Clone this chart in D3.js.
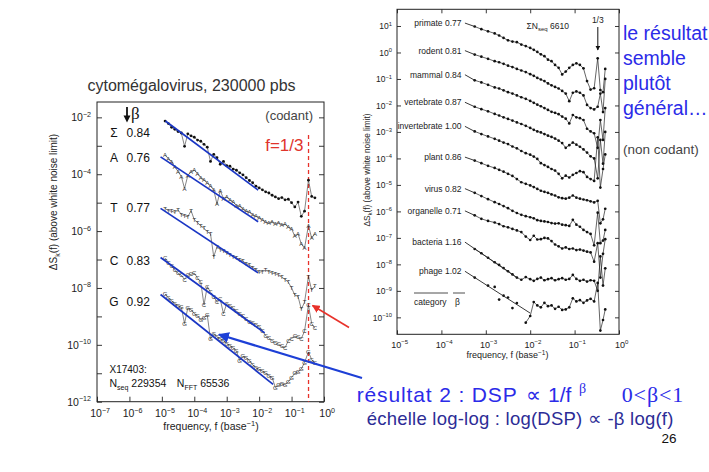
<!DOCTYPE html>
<html>
<head>
<meta charset="utf-8">
<script src="https://cdnjs.cloudflare.com/ajax/libs/d3/7.8.5/d3.min.js"></script>
<style>
body { margin: 0; background: #fff; }
svg { display: block; font-family: "Liberation Sans", Arial, sans-serif; }
</style>
</head>
<body>
<svg id="slide" width="709" height="472"></svg>
<script>
//////////////////////////////////////
// Data (log10 values)

// left panel : cytomegalovirus, one spectrum per nucleotide
const freqL = [-4.9,-4.8,-4.7,-4.6,-4.5,-4.4,-4.3,-4.2,-4.1,-4.0,-3.9,-3.8,-3.7,-3.6,-3.5,-3.4,-3.3,-3.2,-3.1,-3.0,
	-2.9,-2.8,-2.7,-2.6,-2.5,-2.4,-2.3,-2.2,-2.1,-2.0,-1.9,-1.8,-1.7,-1.6,-1.5,-1.4,-1.3,-1.2,-1.1,-1.0,
	-0.9,-0.8,-0.7,-0.6,-0.48,-0.38,-0.28];
const sigmaL = [-2.13,-2.22,-2.35,-2.42,-2.50,-2.55,-3.02,-2.58,-2.65,-2.70,-2.80,-2.84,-2.95,-3.05,-3.55,-3.30,-3.42,-3.65,-3.55,-3.70,
	-3.72,-3.82,-3.86,-3.95,-4.02,-4.12,-4.22,-4.30,-4.42,-4.48,-4.55,-4.62,-4.66,-4.74,-4.80,-4.86,-4.82,-4.90,-4.88,-5.00,
	-5.15,-4.98,-5.48,-5.30,-4.21,-4.78,-4.83];
const adenL = [-3.33,-3.45,-3.55,-3.75,-3.90,-4.08,-4.50,-4.05,-3.90,-3.86,-3.98,-4.12,-4.20,-4.30,-4.42,-4.55,-5.05,-4.58,-4.85,-4.80,
	-4.90,-4.98,-5.10,-5.12,-5.22,-5.30,-5.33,-5.42,-5.48,-5.52,-5.60,-5.68,-5.72,-5.66,-5.74,-5.70,-5.78,-5.76,-5.86,-5.92,
	-6.18,-6.10,-6.45,-6.60,-5.80,-6.25,-6.08];
const thymL = [-5.20,-5.28,-5.30,-5.34,-5.25,-5.42,-5.46,-5.50,-5.28,-5.60,-5.70,-5.82,-5.90,-6.02,-6.10,-6.90,-6.55,-6.65,-6.70,-6.78,
	-6.82,-6.90,-6.95,-7.02,-7.05,-7.15,-7.20,-7.28,-7.35,-7.45,-7.42,-7.38,-7.42,-7.48,-7.50,-7.55,-7.62,-7.70,-7.80,-8.00,
	-8.25,-8.30,-8.75,-8.50,-7.60,-8.08,-7.93];
const cytoL = [-6.95,-7.10,-7.22,-7.38,-7.48,-7.55,-7.70,-7.55,-7.52,-7.48,-7.65,-7.80,-8.60,-7.95,-8.15,-8.30,-8.50,-8.40,-8.90,-8.55,
	-8.62,-8.70,-8.82,-8.90,-8.98,-9.10,-9.18,-9.22,-9.28,-9.35,-9.50,-9.68,-9.75,-9.85,-9.92,-9.98,-10.05,-10.10,-9.85,-9.78,
	-9.70,-9.72,-9.78,-9.52,-8.60,-9.25,-9.42];
const guanL = [-8.21,-8.35,-8.45,-8.55,-8.62,-8.68,-9.25,-8.70,-8.76,-8.90,-8.98,-9.12,-9.05,-8.95,-9.80,-9.60,-9.72,-9.78,-9.85,-9.95,
	-10.02,-10.10,-10.22,-10.55,-10.40,-10.45,-10.55,-10.70,-10.80,-10.86,-10.92,-11.00,-11.08,-11.15,-11.50,-11.42,-11.36,-11.40,-11.30,-11.15,
	-11.00,-10.95,-10.85,-10.62,-10.25,-10.52,-10.64];
const keysL = ['Σ','A','T','C','G'];
const betasL = ['0.84','0.76','0.77','0.83','0.92'];
// fitted power laws : [logf0, logS0, logf1, logS1]
const fitsL = [[-4.89,-2.13,-2.03,-4.56],[-5.04,-3.39,-2.03,-5.67],[-5.04,-5.20,-2.03,-7.47],[-5.04,-6.93,-1.83,-9.58],[-5.04,-8.23,-1.57,-11.39]];

// right panel : non coding DNA by category
const freqR = [-3.25,-3.1,-2.95,-2.8,-2.7,-2.6,-2.5,-2.4,-2.3,-2.2,-2.1,-2.0,-1.92,-1.84,-1.76,-1.68,-1.6,-1.52,-1.44,-1.36,
	-1.28,-1.2,-1.12,-1.04,-0.96,-0.88,-0.8,-0.72,-0.64,-0.56,-0.48,-0.42,-0.36,-0.31];
const categories = ['primate','rodent','mammal','vertebrate','invertebrate','plant','virus','organelle','bacteria','phage'];
const betasR = ['0.77','0.81','0.84','0.87','1.00','0.86','0.82','0.71','1.16','1.02'];
const primate = [0.98,0.88,0.80,0.72,0.64,0.55,0.46,0.41,0.39,0.30,0.24,0.17,0.10,0.02,-0.07,-0.14,-0.27,-0.33,-0.47,-0.58,
	-0.83,-0.72,-0.58,-0.47,-0.41,-0.47,-0.60,-1.08,-1.40,-1.35,-0.22,-1.42,-1.50,-0.62];
const rodent = [-0.08,-0.16,-0.24,-0.33,-0.37,-0.43,-0.50,-0.55,-0.62,-0.68,-0.74,-0.82,-0.88,-0.96,-1.02,-1.08,-1.17,-1.24,-1.30,-1.36,
	-1.45,-1.55,-1.84,-1.52,-1.47,-1.52,-1.62,-1.98,-2.10,-2.15,-2.05,-1.55,-2.25,-1.00];
const mammal = [-1.05,-1.13,-1.22,-1.32,-1.36,-1.43,-1.50,-1.55,-1.62,-1.69,-1.75,-1.83,-1.90,-1.97,-2.03,-2.10,-2.17,-2.24,-2.28,-2.33,
	-2.42,-2.50,-2.68,-2.36,-2.45,-2.48,-2.55,-2.88,-2.98,-3.05,-3.60,-2.55,-3.30,-2.10];
const vertebrate = [-2.05,-2.14,-2.22,-2.32,-2.38,-2.45,-2.51,-2.57,-2.64,-2.70,-2.77,-2.85,-2.92,-2.98,-3.02,-3.08,-3.14,-3.19,-3.25,-3.33,
	-3.42,-3.60,-3.50,-3.40,-3.48,-3.56,-3.66,-3.78,-3.92,-4.00,-4.75,-3.30,-4.20,-3.00];
const invertebrate = [-2.98,-3.08,-3.17,-3.26,-3.33,-3.40,-3.46,-3.55,-3.62,-3.72,-3.80,-3.86,-3.93,-4.02,-4.18,-4.25,-4.32,-4.40,-4.46,-4.58,
	-4.75,-4.65,-4.72,-4.62,-4.55,-4.48,-4.52,-4.70,-4.78,-4.85,-3.20,-5.10,-4.40,-3.85];
const plant = [-4.08,-4.18,-4.28,-4.36,-4.43,-4.50,-4.58,-4.66,-4.78,-4.90,-4.96,-5.02,-5.08,-5.15,-5.22,-5.26,-5.30,-5.36,-5.40,-5.47,
	-5.50,-5.52,-5.48,-5.40,-5.48,-5.52,-5.55,-5.58,-5.62,-5.66,-5.60,-6.45,-6.30,-5.90];
const virus = [-5.30,-5.42,-5.54,-5.65,-5.72,-5.80,-5.88,-5.98,-6.06,-6.13,-6.18,-6.22,-6.26,-6.33,-6.36,-6.38,-6.40,-6.44,-6.46,-6.45,
	-6.50,-6.52,-6.55,-6.32,-6.50,-6.58,-6.70,-6.78,-6.85,-7.28,-6.05,-7.20,-7.10,-6.70];
const organelle = [-6.15,-6.28,-6.36,-6.42,-6.48,-6.56,-6.60,-6.66,-6.72,-6.78,-6.95,-7.08,-6.92,-7.06,-7.05,-7.00,-7.02,-7.12,-7.25,-7.32,
	-7.40,-7.36,-7.42,-7.40,-7.46,-7.44,-7.48,-7.52,-7.55,-7.90,-7.20,-8.50,-7.60,-7.05];
const bacteria = [-7.42,-7.58,-7.75,-7.92,-8.02,-8.14,-8.26,-8.38,-8.50,-8.58,-8.48,-8.56,-8.62,-8.55,-8.50,-8.60,-8.56,-8.52,-8.60,-8.56,
	-8.52,-8.58,-8.55,-8.40,-8.55,-8.62,-8.58,-8.65,-8.60,-8.62,-9.00,-7.70,-8.80,-8.15];
const phage = [-8.50,null,-8.80,-8.85,-9.33,-9.18,-9.25,-9.65,-9.46,null,-10.20,-9.95,-9.42,-9.55,-9.62,-9.45,-9.58,-9.55,-9.68,-9.60,
	-9.72,-9.70,-9.62,-9.28,-9.40,-9.35,-9.45,-9.36,-9.30,-9.40,-8.70,-10.50,-10.10,-9.70];
const valuesR = [primate, rodent, mammal, vertebrate, invertebrate, plant, virus, organelle, bacteria, phage];
// level where each label line starts (log f = -3.47) and where it ends
const startR = [1.11, 0.07, -0.84, -1.88, -2.79, -3.95, -5.14, -5.98, -7.16, -8.26];
const fitEndR = [[-3.25,0.98],[-3.25,-0.08],[-3.25,-1.05],[-3.25,-2.05],[-3.25,-2.98],[-3.25,-4.08],[-3.25,-5.30],[-3.25,-6.15],[-2.3,-8.50],[-2.0,-9.84]];
const joinFromR = [0,0,0,0,0,0,0,0,0,10]; // phage : early points are not joined

//////////////////////////////////////
// Scales

const xL = d3.scaleLog().domain([1e-7, 1]).range([97, 324]);
const yL = d3.scaleLog().domain([1e-12, Math.pow(10, -1.46)]).range([401.7, 102]);
const xR = d3.scaleLog().domain([1e-5, 1]).range([397, 619]);
const yR = d3.scaleLog().domain([Math.pow(10, -10.64), Math.pow(10, 1.63)]).range([334.3, 9.3]);

const svg = d3.select('#slide');
svg.append('rect').attr('width', 709).attr('height', 472).attr('fill', '#fff');

const defs = svg.append('defs');
function arrowMarker(id, col) {
	defs.append('marker').attr('id', id).attr('viewBox', '0 0 10 10').attr('refX', 9).attr('refY', 5)
		.attr('markerWidth', 5).attr('markerHeight', 5).attr('orient', 'auto')
		.append('path').attr('d', 'M0,0L10,5L0,10z').attr('fill', col);
}
arrowMarker('headRed', '#e8322b');
arrowMarker('headBlue', '#1d3fd6');
arrowMarker('headBlack', '#111');

// "10" with a superscript exponent
function powTen(sel, e, fs) {
	sel.text(null);
	sel.append('tspan').text('10');
	sel.append('tspan').attr('font-size', fs * 0.68).attr('dy', -fs * 0.42)
		.text(e < 0 ? '\u2212' + (-e) : String(e));
}

function styleAxis(g, fs) {
	g.select('.domain').remove();
	g.selectAll('.tick line').attr('stroke', '#222').attr('stroke-width', 0.9);
	g.selectAll('.tick text').attr('fill', '#222').attr('font-size', fs)
		.attr('font-family', '"Liberation Sans", Arial, sans-serif');
}

//////////////////////////////////////
// Left panel

const gL = svg.append('g');
const decY_L = d3.range(-12, -1).map(e => Math.pow(10, e));
const decX_L = d3.range(-7, 1).map(e => Math.pow(10, e));

gL.append('g').attr('transform', 'translate(' + xL.range()[0] + ',0)')
	.call(d3.axisLeft(yL).tickValues(decY_L).tickSize(-5).tickPadding(6).tickFormat(''))
	.call(g => styleAxis(g, 10.5))
	.selectAll('.tick text').each(function(d) {
		const e = Math.round(Math.log10(d));
		if (e % 2 === 0) powTen(d3.select(this), e, 10.5);
	});
gL.append('g').attr('transform', 'translate(' + xL.range()[1] + ',0)')
	.call(d3.axisRight(yL).tickValues(decY_L).tickSize(-5).tickFormat(''))
	.call(g => styleAxis(g, 10));
gL.append('g').attr('transform', 'translate(0,' + yL.range()[0] + ')')
	.call(d3.axisBottom(xL).tickValues(decX_L).tickSize(-5).tickPadding(8).tickFormat(''))
	.call(g => styleAxis(g, 10.5))
	.selectAll('.tick text').each(function(d) {
		powTen(d3.select(this).attr('dx', '0.25em'), Math.round(Math.log10(d)), 10.5);
	});

gL.append('rect').attr('x', xL.range()[0]).attr('y', yL.range()[1])
	.attr('width', xL.range()[1] - xL.range()[0]).attr('height', yL.range()[0] - yL.range()[1])
	.attr('fill', 'none').attr('stroke', '#222').attr('stroke-width', 1);

// one-third frequency
gL.append('line').attr('x1', xL(1 / 3)).attr('x2', xL(1 / 3)).attr('y1', 135).attr('y2', yL.range()[0])
	.attr('stroke', '#e8322b').attr('stroke-width', 1.3).attr('stroke-dasharray', '4,3');

const lineL = d3.line().x(d => xL(Math.pow(10, d[0]))).y(d => yL(Math.pow(10, d[1])));
const valuesL = [sigmaL, adenL, thymL, cytoL, guanL];
const labelBaseL = [136.7, 162.3, 212.3, 265, 306];

valuesL.forEach(function(vals, i) {
	const pts = freqL.map((f, j) => [f, vals[j]]);
	gL.append('path').attr('d', lineL(pts)).attr('fill', 'none').attr('stroke', '#333').attr('stroke-width', 0.6);
	if (i === 0) {
		gL.append('g').selectAll('circle').data(pts).enter().append('circle')
			.attr('cx', d => xL(Math.pow(10, d[0]))).attr('cy', d => yL(Math.pow(10, d[1])))
			.attr('r', 1.4).attr('fill', '#111');
	} else {
		gL.append('g').selectAll('text').data(pts).enter().append('text')
			.attr('x', d => xL(Math.pow(10, d[0]))).attr('y', d => yL(Math.pow(10, d[1])))
			.attr('dy', '0.36em').attr('text-anchor', 'middle')
			.attr('font-size', 6).attr('fill', '#333').text(keysL[i]);
	}
	const f = fitsL[i];
	gL.append('line')
		.attr('x1', xL(Math.pow(10, f[0]))).attr('y1', yL(Math.pow(10, f[1])))
		.attr('x2', xL(Math.pow(10, f[2]))).attr('y2', yL(Math.pow(10, f[3])))
		.attr('stroke', '#1a36c4').attr('stroke-width', 1.7);

	gL.append('text').attr('x', 114).attr('y', labelBaseL[i]).attr('text-anchor', 'middle')
		.attr('font-size', 12).attr('fill', '#111').text(keysL[i]);
	gL.append('text').attr('x', 126.5).attr('y', labelBaseL[i])
		.attr('font-size', 12).attr('fill', '#111').text(betasL[i]);
});

// beta header
gL.append('line').attr('x1', 127).attr('x2', 127).attr('y1', 107).attr('y2', 117)
	.attr('stroke', '#111').attr('stroke-width', 1.8);
gL.append('path').attr('d', 'M123.5,115.5L130.5,115.5L127,122.5z').attr('fill', '#111');
gL.append('text').attr('x', 131).attr('y', 119).attr('font-size', 17)
	.attr('font-family', '"Liberation Serif", "Times New Roman", serif').attr('fill', '#111').text('β');

gL.append('text').attr('x', 313).attr('y', 120).attr('text-anchor', 'end')
	.attr('font-size', 13).attr('fill', '#444').text('(codant)');
gL.append('text').attr('x', 303.5).attr('y', 150.7).attr('text-anchor', 'end')
	.attr('font-size', 17).attr('fill', '#e0342c').text('f=1/3');

gL.append('text').attr('x', 109.5).attr('y', 372.7).attr('font-size', 10).attr('fill', '#111').text('X17403:');
const nLine = gL.append('text').attr('x', 109.5).attr('y', 387.3).attr('font-size', 10.5).attr('fill', '#111');
nLine.append('tspan').text('N');
nLine.append('tspan').attr('font-size', 7).attr('dy', 2.5).text('seq');
nLine.append('tspan').attr('dy', -2.5).text(' 229354\u2003N');
nLine.append('tspan').attr('font-size', 7).attr('dy', 2.5).text('FFT');
nLine.append('tspan').attr('dy', -2.5).text(' 65536');

// titles
svg.append('text').attr('x', 191.5).attr('y', 90.7).attr('text-anchor', 'middle')
	.attr('font-size', 16).attr('fill', '#333').text('cytomégalovirus, 230000 pbs');

const xtL = gL.append('text').attr('x', 211).attr('y', 430).attr('text-anchor', 'middle')
	.attr('font-size', 10.5).attr('fill', '#222');
xtL.append('tspan').text('frequency, f (base');
xtL.append('tspan').attr('font-size', 7.5).attr('dy', -4).text('\u22121');
xtL.append('tspan').attr('dy', 4).text(')');

const ytL = gL.append('text').attr('transform', 'translate(57,202) rotate(-90)').attr('text-anchor', 'middle')
	.attr('font-size', 10).attr('fill', '#222');
ytL.append('tspan').text('ΔS');
ytL.append('tspan').attr('font-size', 7).attr('dy', 2.5).text('k');
ytL.append('tspan').attr('dy', -2.5).text('(f) (above white noise limit)');

//////////////////////////////////////
// Right panel

const gR = svg.append('g');
const decY_R = d3.range(-10, 2).map(e => Math.pow(10, e));
const decX_R = d3.range(-5, 1).map(e => Math.pow(10, e));

gR.append('g').attr('transform', 'translate(' + xR.range()[0] + ',0)')
	.call(d3.axisLeft(yR).tickValues(decY_R).tickSize(-4).tickPadding(5).tickFormat(''))
	.call(g => styleAxis(g, 8.5))
	.selectAll('.tick text').each(function(d) {
		powTen(d3.select(this), Math.round(Math.log10(d)), 8.5);
	});
gR.append('g').attr('transform', 'translate(' + xR.range()[1] + ',0)')
	.call(d3.axisRight(yR).tickValues(decY_R).tickSize(-4).tickFormat(''))
	.call(g => styleAxis(g, 8.5));
gR.append('g').attr('transform', 'translate(0,' + yR.range()[0] + ')')
	.call(d3.axisBottom(xR).tickValues(decX_R).tickSize(-4).tickPadding(7).tickFormat(''))
	.call(g => styleAxis(g, 9))
	.selectAll('.tick text').each(function(d) {
		powTen(d3.select(this).attr('dx', '0.25em'), Math.round(Math.log10(d)), 9);
	});
gR.append('g').attr('transform', 'translate(0,' + yR.range()[1] + ')')
	.call(d3.axisTop(xR).tickValues(decX_R).tickSize(-4).tickFormat(''))
	.call(g => styleAxis(g, 9));

gR.append('rect').attr('x', xR.range()[0]).attr('y', yR.range()[1])
	.attr('width', xR.range()[1] - xR.range()[0]).attr('height', yR.range()[0] - yR.range()[1])
	.attr('fill', 'none').attr('stroke', '#222').attr('stroke-width', 1);

const lineR = d3.line().defined(d => d[1] !== null)
	.x(d => xR(Math.pow(10, d[0]))).y(d => yR(Math.pow(10, d[1])));

valuesR.forEach(function(vals, i) {
	const pts = freqR.map((f, j) => [f, vals[j]]);
	gR.append('path').attr('d', lineR(pts.slice(joinFromR[i]))).attr('fill', 'none')
		.attr('stroke', '#222').attr('stroke-width', 0.7);
	gR.append('g').selectAll('circle').data(pts.filter(d => d[1] !== null)).enter().append('circle')
		.attr('cx', d => xR(Math.pow(10, d[0]))).attr('cy', d => yR(Math.pow(10, d[1])))
		.attr('r', 1.35).attr('fill', '#111');
	gR.append('line')
		.attr('x1', xR(Math.pow(10, -3.47))).attr('y1', yR(Math.pow(10, startR[i])))
		.attr('x2', xR(Math.pow(10, fitEndR[i][0]))).attr('y2', yR(Math.pow(10, fitEndR[i][1])))
		.attr('stroke', '#222').attr('stroke-width', 0.9);
	gR.append('text').attr('x', 461.5).attr('y', yR(Math.pow(10, startR[i])) + 3)
		.attr('text-anchor', 'end').attr('font-size', 8.5).attr('fill', '#222')
		.text(categories[i] + ' ' + betasR[i]);
});

// legend of the label column
gR.append('text').attr('x', 414).attr('y', 305).attr('font-size', 8.5).attr('fill', '#222').text('category');
gR.append('text').attr('x', 455).attr('y', 305).attr('font-size', 8.5).attr('fill', '#222').text('β');
gR.append('line').attr('x1', 414).attr('x2', 448).attr('y1', 293).attr('y2', 293).attr('stroke', '#222').attr('stroke-width', 0.8);
gR.append('line').attr('x1', 453).attr('x2', 465).attr('y1', 293).attr('y2', 293).attr('stroke', '#222').attr('stroke-width', 0.8);

const nsum = gR.append('text').attr('x', 526.5).attr('y', 29.3).attr('font-size', 8.5).attr('fill', '#222');
nsum.append('tspan').text('ΣN');
nsum.append('tspan').attr('font-size', 6).attr('dy', 2).text('seq');
nsum.append('tspan').attr('dy', -2).text(' 6610');

gR.append('text').attr('x', xR(1 / 3)).attr('y', 22.7).attr('text-anchor', 'middle')
	.attr('font-size', 8.5).attr('fill', '#222').text('1/3');
gR.append('line').attr('x1', xR(1 / 3)).attr('x2', xR(1 / 3)).attr('y1', 27).attr('y2', 50)
	.attr('stroke', '#111').attr('stroke-width', 1).attr('marker-end', 'url(#headBlack)');

const xtR = gR.append('text').attr('x', 507.5).attr('y', 358).attr('text-anchor', 'middle')
	.attr('font-size', 9).attr('fill', '#222');
xtR.append('tspan').text('frequency, f (base');
xtR.append('tspan').attr('font-size', 6.5).attr('dy', -3.5).text('\u22121');
xtR.append('tspan').attr('dy', 3.5).text(')');

const ytR = gR.append('text').attr('transform', 'translate(370,170) rotate(-90)').attr('text-anchor', 'middle')
	.attr('font-size', 8.3).attr('fill', '#222');
ytR.append('tspan').text('ΔS');
ytR.append('tspan').attr('font-size', 6).attr('dy', 2).text('k');
ytR.append('tspan').attr('dy', -2).text('(f) (above white noise limit)');

//////////////////////////////////////
// Slide text and arrows

const blue = '#2b2be8';
['le résultat', 'semble', 'plutôt', 'général…'].forEach(function(t, i) {
	svg.append('text').attr('x', 623).attr('y', 39.5 + i * 25).attr('font-size', 19.5).attr('fill', blue).text(t);
});
svg.append('text').attr('x', 623).attr('y', 153.5).attr('font-size', 13.5).attr('fill', '#444').text('(non codant)');

svg.append('text').attr('x', 356.7).attr('y', 401.7).attr('font-size', 21).attr('fill', blue)
	.attr('textLength', 160).attr('lengthAdjust', 'spacing').text('résultat 2 : DSP');
svg.append('text').attr('x', 533).attr('y', 401.7).attr('text-anchor', 'middle').attr('font-size', 21).attr('fill', blue).text('∝');
svg.append('text').attr('x', 548).attr('y', 401.7).attr('font-size', 21).attr('fill', blue).text('1/f');
svg.append('text').attr('x', 579).attr('y', 393).attr('font-size', 14).attr('fill', blue)
	.attr('font-family', '"Liberation Serif", serif').text('β');
svg.append('text').attr('x', 621.7).attr('y', 401.7).attr('font-size', 22).attr('fill', blue)
	.attr('font-family', '"Liberation Serif", "Times New Roman", serif')
	.attr('textLength', 61.6).attr('lengthAdjust', 'spacing').text('0<β<1');
svg.append('text').attr('x', 366.7).attr('y', 425).attr('font-size', 18.5).attr('fill', '#2c2c96')
	.attr('textLength', 306.7).attr('lengthAdjust', 'spacing').text('échelle log-log : log(DSP) ∝ -β log(f)');
svg.append('text').attr('x', 669).attr('y', 443.3).attr('text-anchor', 'middle').attr('font-size', 13.5)
	.attr('fill', '#111').text('26');

svg.append('line').attr('x1', 349).attr('y1', 327.5).attr('x2', 312.5).attr('y2', 305.5)
	.attr('stroke', '#e8322b').attr('stroke-width', 1.6).attr('marker-end', 'url(#headRed)');
svg.append('line').attr('x1', 362).attr('y1', 378).attr('x2', 219).attr('y2', 334.5)
	.attr('stroke', '#1d3fd6').attr('stroke-width', 2.2).attr('marker-end', 'url(#headBlue)');
</script>
</body>
</html>
